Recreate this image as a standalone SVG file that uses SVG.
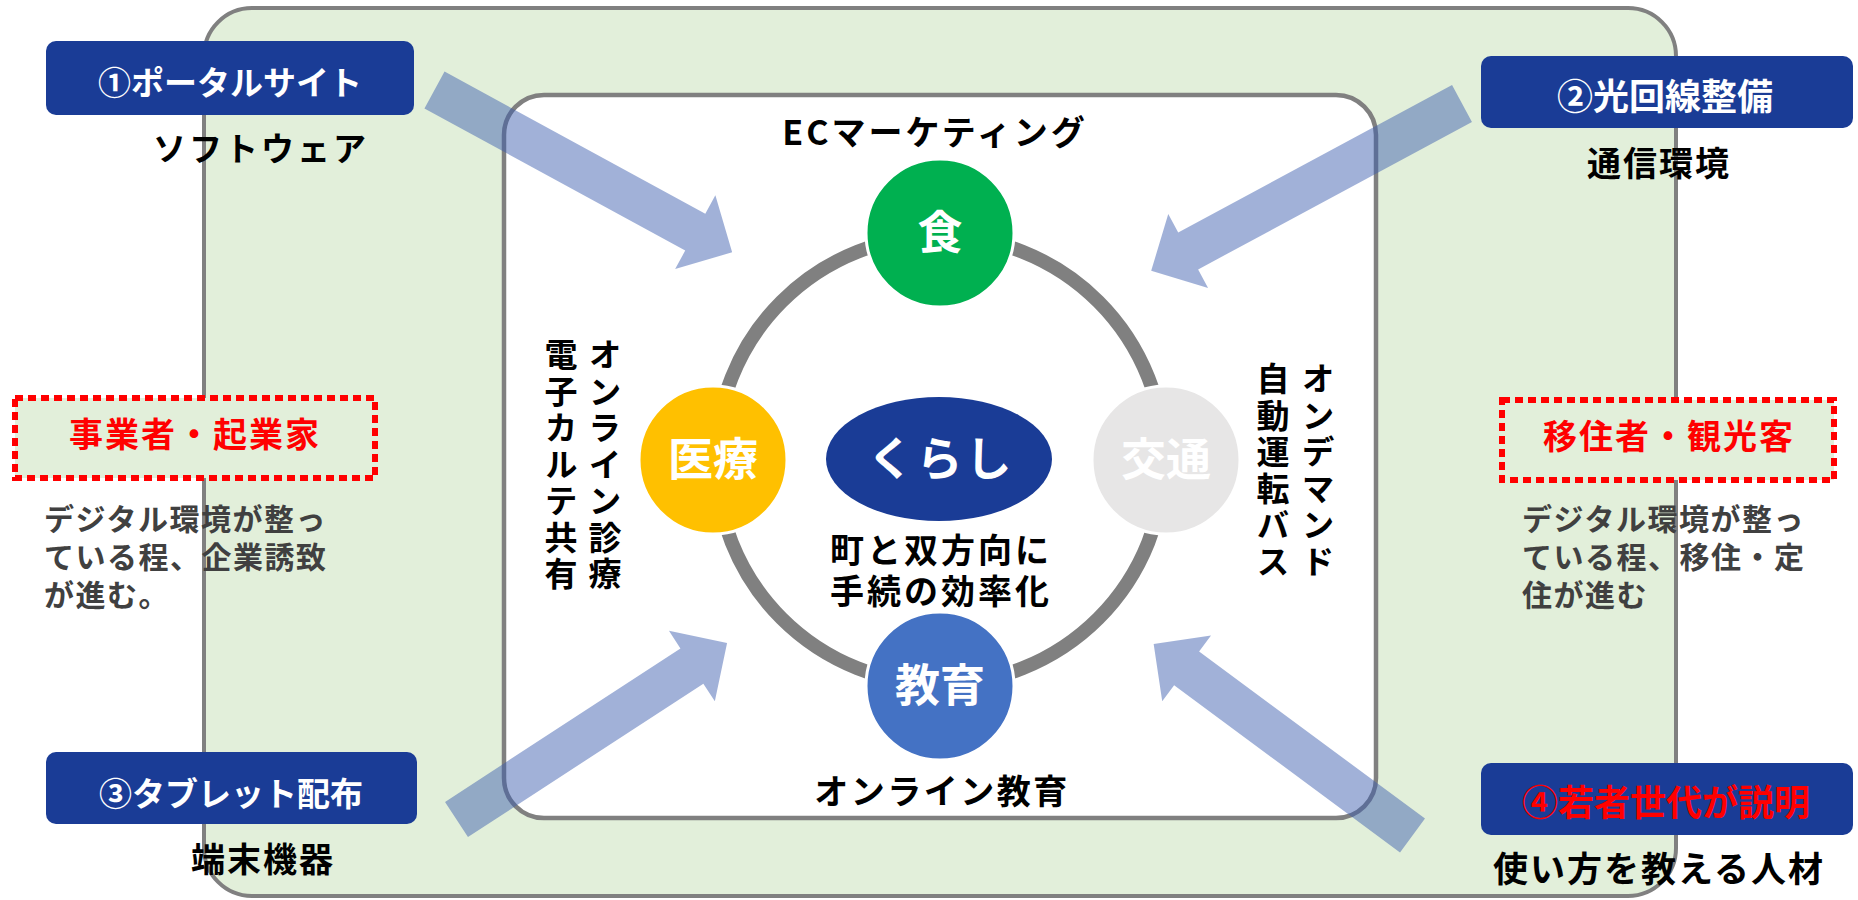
<svg xmlns="http://www.w3.org/2000/svg" width="1858" height="900" viewBox="0 0 1858 900">
<style>
text{font-family:"Noto Sans CJK JP","Noto Sans",sans-serif;font-weight:700}
.c{text-anchor:middle}
.wt{fill:#fff}
.bk{fill:#000}
.rd{fill:#FF0000}
.gy{fill:#404040;font-size:30px;letter-spacing:1.5px}
.box{fill:#1A3C96}
.dot{fill:#E2EFDA;stroke:#FF0000;stroke-width:6;stroke-dasharray:8 5}
.arrow{fill:#3B5DAE;fill-opacity:0.48}
.vt{writing-mode:vertical-rl;font-size:33px;letter-spacing:3.5px;fill:#000}
.node{stroke:#fff;stroke-width:3}
.nt{fill:#fff;font-size:45px;text-anchor:middle}
</style>
<rect x="0" y="0" width="1858" height="900" fill="#fff"/>
<g id="outer-frame"><rect x="204" y="8" width="1472" height="888" rx="48" fill="#E2EFDA" stroke="#808080" stroke-width="4"/></g>
<g id="inner-frame"><rect x="504" y="95" width="872" height="723" rx="40" fill="#fff" stroke="#808080" stroke-width="4.5"/></g>

<g id="ring"><circle cx="940" cy="460" r="224" fill="none" stroke="#808080" stroke-width="14"/></g>

<g id="node-food"><circle class="node" cx="940" cy="233" r="74" fill="#00B050"/><text class="nt" x="940" y="249">食</text></g>
<g id="node-medical"><circle class="node" cx="713" cy="460" r="74" fill="#FFC000"/><text class="nt" x="713" y="476">医療</text></g>
<g id="node-traffic"><circle class="node" cx="1166" cy="460" r="74" fill="#E7E6E6"/><text class="nt" x="1166" y="476">交通</text></g>
<g id="node-education"><circle class="node" cx="940" cy="686" r="74" fill="#4472C4"/><text class="nt" x="940" y="702">教育</text></g>
<g id="node-kurashi"><ellipse cx="939" cy="459" rx="113" ry="62" fill="#1A3C96"/><text class="wt c" x="941" y="475" font-size="46" letter-spacing="3">くらし</text></g>
<g id="center-caption"><text class="bk c" x="941" y="563" font-size="34" letter-spacing="3">町と双方向に</text><text class="bk c" x="941" y="604" font-size="34" letter-spacing="3">手続の効率化</text></g>

<g id="label-ec"><text class="bk c" x="935" y="145" font-size="34" letter-spacing="3">ECマーケティング</text></g>
<g id="label-online-edu"><text class="bk c" x="942" y="804" font-size="34" letter-spacing="2.5">オンライン教育</text></g>
<g id="label-medical"><text class="vt" x="605" y="338">オンライン診療</text><text class="vt" x="561" y="338">電子カルテ共有</text></g>
<g id="label-traffic"><text class="vt" x="1318" y="362">オンデマンド</text><text class="vt" x="1273" y="362">自動運転バス</text></g>

<g id="connectors">
<path class="arrow" transform="translate(434.5,90) rotate(28.6)" d="M0,-21 H297 V-42 L339,0 L297,42 V21 H0 Z"/>
<path class="arrow" transform="translate(1462,103.5) rotate(151.7)" d="M0,-21 H311 V-42 L353,0 L311,42 V21 H0 Z"/>
<path class="arrow" transform="translate(456.5,819.5) rotate(-33.1)" d="M0,-21 H281 V-42 L323,0 L281,42 V21 H0 Z"/>
<path class="arrow" transform="translate(1412.5,835.5) rotate(216.5)" d="M0,-21 H281 V-41 L322,0 L281,41 V21 H0 Z"/>
</g>

<g id="box1"><rect class="box" x="46" y="41" width="368" height="74" rx="10"/><text class="wt c" x="230" y="95" font-size="33">①ポータルサイト</text><text class="bk c" x="261" y="161" font-size="33" letter-spacing="3" font-weight="500">ソフトウェア</text></g>
<g id="box2"><rect class="box" x="1481" y="56" width="372" height="72" rx="10"/><text class="wt c" x="1665" y="110" font-size="36">②光回線整備</text><text class="bk c" x="1659" y="176" font-size="34" letter-spacing="2">通信環境</text></g>
<g id="box3"><rect class="box" x="46" y="752" width="371" height="72" rx="10"/><text class="wt c" x="231" y="806" font-size="33">③タブレット配布</text><text class="bk c" x="263" y="872" font-size="34" letter-spacing="2">端末機器</text></g>
<g id="box4"><rect class="box" x="1481" y="763" width="372" height="72" rx="10"/><text class="rd c" x="1666" y="816" font-size="36">④若者世代が説明</text><text class="bk c" x="1659" y="882" font-size="35" letter-spacing="2">使い方を教える人材</text></g>

<g id="business"><rect class="dot" x="15" y="398" width="360" height="80"/><text class="rd c" x="195" y="447" font-size="34" letter-spacing="2">事業者・起業家</text>
<text class="gy" x="44" y="530">デジタル環境が整っ</text><text class="gy" x="44" y="568">ている程、企業誘致</text><text class="gy" x="44" y="606">が進む。</text></g>
<g id="migrants"><rect class="dot" x="1502" y="400" width="332" height="80"/><text class="rd c" x="1669" y="449" font-size="34" letter-spacing="2">移住者・観光客</text>
<text class="gy" x="1522" y="530">デジタル環境が整っ</text><text class="gy" x="1522" y="568">ている程、移住・定</text><text class="gy" x="1522" y="606">住が進む</text></g>
</svg>
